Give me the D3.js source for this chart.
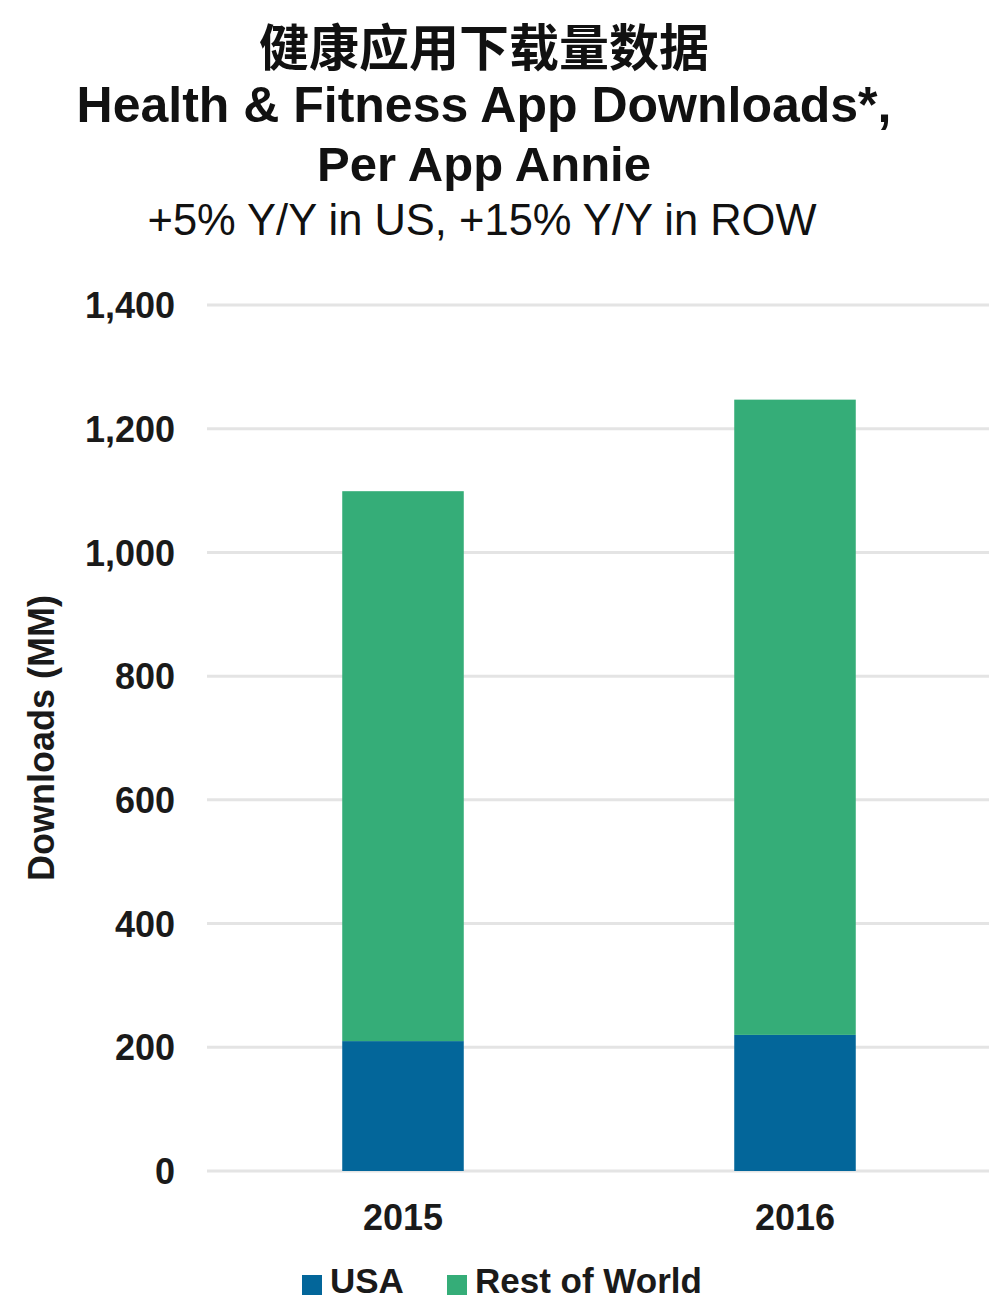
<!DOCTYPE html>
<html>
<head>
<meta charset="utf-8">
<script src="https://cdn.jsdelivr.net/npm/d3@7"></script>
<style>
  html, body { margin: 0; padding: 0; background: #fff; }
  svg { display: block; font-family: "Liberation Sans", Arial, sans-serif; }
</style>
</head>
<body>
<svg id="chart" width="989" height="1302"></svg>
<script>
// Health & Fitness app downloads (millions), split US vs. rest of world
const years = ["2015", "2016"];
const usaValues = [210, 220];
const rowValues = [889, 1027];
const seriesNames = ["USA", "Rest of World"];
const seriesColors = ["#03669a", "#35ad78"];
const yTicks = [0, 200, 400, 600, 800, 1000, 1200, 1400];

const svg = d3.select("#chart");
const W = 989;
const plotLeft = 207;
const plotBottom = 1171;
const plotTop = 305;

const x = d3.scaleBand()
  .domain(years)
  .range([plotLeft, 991])
  .paddingInner(0.69)
  .paddingOuter(0.345);

const y = d3.scaleLinear()
  .domain([0, 1400])
  .range([plotBottom, plotTop]);

// Titles
const cx = 484;
svg.append("text").attr("x", cx).attr("y", 66).attr("text-anchor", "middle")
  .style("font-family", "'Noto Sans CJK SC', sans-serif").style("font-weight", 700)
  .style("font-size", "50px").attr("fill", "#111").text("健康应用下载量数据");
svg.append("text").attr("x", cx).attr("y", 122).attr("text-anchor", "middle")
  .style("font-weight", 700).style("font-size", "50px").attr("fill", "#111")
  .text("Health & Fitness App Downloads*,");
svg.append("text").attr("x", cx).attr("y", 181).attr("text-anchor", "middle")
  .style("font-weight", 700).style("font-size", "49px").attr("fill", "#111")
  .text("Per App Annie");
svg.append("text").attr("x", 482).attr("y", 235).attr("text-anchor", "middle")
  .style("font-weight", 400).style("font-size", "43.5px").attr("fill", "#111")
  .text("+5% Y/Y in US, +15% Y/Y in ROW");

// Y tick labels
const yAxis = d3.axisLeft(y).tickValues(yTicks).tickFormat(d3.format(",")).tickSize(0).tickPadding(0);
const gy = svg.append("g").attr("transform", "translate(175,0)").call(yAxis);
gy.select(".domain").remove();
gy.selectAll("text").style("font-size", "36px").style("font-weight", 700)
  .attr("fill", "#1a1a1a").attr("dy", "0.35em").style("font-family", "'Liberation Sans', Arial, sans-serif");

// Horizontal gridlines
svg.append("g").selectAll("line").data(yTicks).join("line")
  .attr("x1", plotLeft).attr("x2", W)
  .attr("y1", d => y(d)).attr("y2", d => y(d))
  .attr("stroke", "#e4e4e4").attr("stroke-width", 3);

// Stacked bars
const table = years.map((yr, i) => ({ year: yr, USA: usaValues[i], "Rest of World": rowValues[i] }));
const stack = d3.stack().keys(seriesNames)(table);
const color = d3.scaleOrdinal().domain(seriesNames).range(seriesColors);

svg.append("g").selectAll("g").data(stack).join("g")
  .attr("fill", d => color(d.key))
  .selectAll("rect").data(d => d).join("rect")
  .attr("x", d => x(d.data.year))
  .attr("width", x.bandwidth())
  .attr("y", d => y(d[1]))
  .attr("height", d => y(d[0]) - y(d[1]));

// X axis labels
const xAxis = d3.axisBottom(x).tickSize(0).tickPadding(0);
const gx = svg.append("g").attr("transform", "translate(0,1230)").call(xAxis);
gx.select(".domain").remove();
gx.selectAll("text").attr("dy", 0).style("font-size", "36px").style("font-weight", 700)
  .attr("fill", "#1a1a1a").style("font-family", "'Liberation Sans', Arial, sans-serif");

// Y axis title
svg.append("text")
  .attr("transform", "translate(54,738) rotate(-90)")
  .attr("text-anchor", "middle")
  .style("font-size", "36px").style("font-weight", 700).attr("fill", "#1a1a1a")
  .text("Downloads (MM)");

// Legend
const legendItems = [
  { name: seriesNames[0], x: 302 },
  { name: seriesNames[1], x: 447 }
];
const lg = svg.append("g").selectAll("g").data(legendItems).join("g")
  .attr("transform", d => `translate(${d.x},1275)`);
lg.append("rect").attr("width", 20).attr("height", 20).attr("fill", d => color(d.name));
lg.append("text").attr("x", 28).attr("y", 18)
  .style("font-size", "35px").style("font-weight", 700).attr("fill", "#1a1a1a")
  .text(d => d.name);
</script>
</body>
</html>
